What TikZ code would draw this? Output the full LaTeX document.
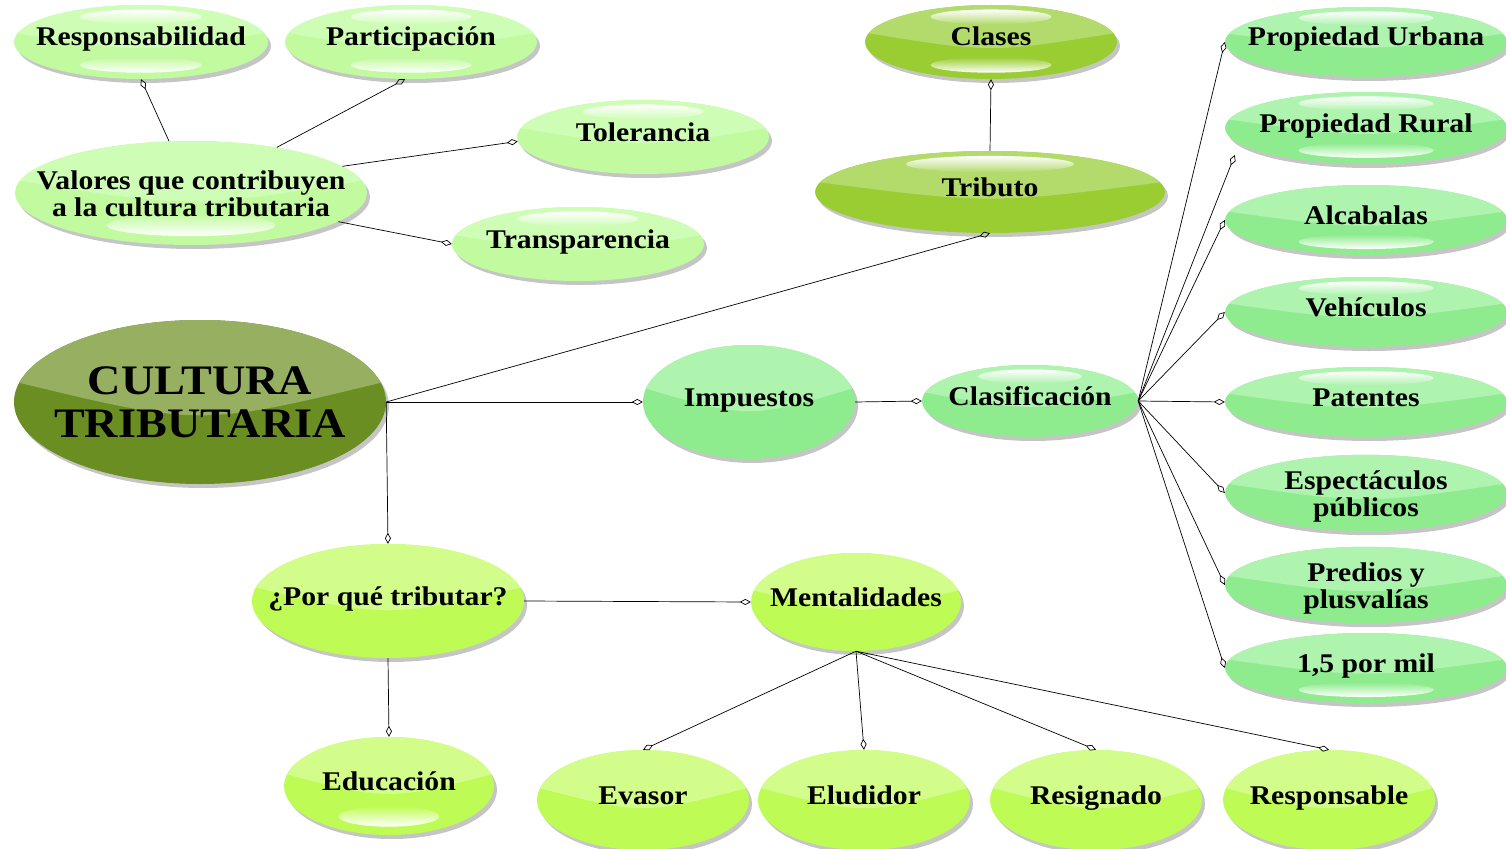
\documentclass[tikz,border=0pt]{standalone}
\usepackage{fontspec}
\setmainfont{Liberation Serif}[FakeStretch=1.1]
\usetikzlibrary{shapes.geometric,arrows.meta,calc,shadows}
\definecolor{vA}{HTML}{C2FAA0}\definecolor{vAt}{HTML}{CEFDB5}
\definecolor{yg}{HTML}{9ACD32}\definecolor{ygt}{HTML}{B3DB6C}
\definecolor{ol}{HTML}{6B8E23}\definecolor{olt}{HTML}{97AF60}
\definecolor{lg}{HTML}{8EEB8E}\definecolor{lgt}{HTML}{AEF3AE}
\definecolor{gy}{HTML}{BFFB55}\definecolor{gyt}{HTML}{D3FD8A}
\newcommand\zw[1]{\makebox[0pt]{\raisebox{-5pt}[\height][\depth]{\begin{tabular}{@{}c@{}}#1\end{tabular}}}}
\newcommand\zo[1]{\makebox[0pt]{#1}}
\tikzset{
  gt/.initial=0, gb/.initial=0,
  bub/.style 2 args={ellipse, draw=none, fill=#1, inner sep=0pt, align=center,
    font=\bfseries\fontsize{27}{27}\selectfont,
    drop shadow={shadow xshift=3pt, shadow yshift=-4pt, opacity=0.3, fill=black!75},
    path picture={
      \fill[#2] ($(path picture bounding box.west)!0.25!(path picture bounding box.north west)$)
        .. controls ($(path picture bounding box.center)!0.3!(path picture bounding box.south)$)
        .. ($(path picture bounding box.east)!0.25!(path picture bounding box.north east)$)
        -- (path picture bounding box.north east) -- (path picture bounding box.north west) -- cycle;
      \pgfpointdiff{\pgfpointanchor{path picture bounding box}{center}}{\pgfpointanchor{path picture bounding box}{north east}}
      \pgfgetlastxy{\ppRX}{\ppRY}
      \ifnum\pgfkeysvalueof{/tikz/gt}=1
        \shade[top color=white, bottom color=#2] ([yshift=0.68*\ppRY]path picture bounding box.center) ellipse [x radius=0.48*\ppRX, y radius=0.2*\ppRY];
      \fi
      \ifnum\pgfkeysvalueof{/tikz/gb}=1
        \shade[top color=#1, bottom color=white] ([yshift=-0.62*\ppRY]path picture bounding box.center) ellipse [x radius=0.48*\ppRX, y radius=0.21*\ppRY];
      \fi
    }},
  one/.style={text height=19pt, text depth=11pt},
  sz/.style 2 args={minimum width=#1, minimum height=#2},
  conn/.style={draw, line width=0.7pt, -{Diamond[open,length=11pt,width=6pt]}}
}
\begin{document}
\begin{tikzpicture}[x=1pt,y=1pt]
\useasboundingbox (0,0) rectangle (1506,-848);
% values cluster
\node[bub={vA}{vAt}, one, sz={254}{74}, gt=1, gb=1] (resp) at (141,-42) {\zo{Responsabilidad}};
\node[bub={vA}{vAt}, one, sz={252}{74}, gt=1, gb=1] (part) at (411,-42) {\zo{Participación}};
\node[bub={vA}{vAt}, sz={352}{104}, gb=1] (val) at (191,-193) {\zw{Valores que contribuyen\\a la cultura tributaria}};
\node[bub={vA}{vAt}, one, sz={252}{74}, gt=1] (tol) at (643,-137) {\zo{Tolerancia}};
\node[bub={vA}{vAt}, one, sz={252}{74}, gt=1] (trans) at (578,-244) {\zo{Transparencia}};
% tributo
\node[bub={yg}{ygt}, one, sz={252}{74}, gt=1, gb=1] (clases) at (991,-42) {\zo{Clases}};
\node[bub={yg}{ygt}, one, sz={350}{82}, gt=1] (trib) at (990,-192) {\zo{Tributo}};
% centre
\node[bub={ol}{olt}, sz={372}{164}, font=\bfseries\fontsize{42}{43}\selectfont] (cult) at (200,-402) {\zw{CULTURA\\TRIBUTARIA}};
\node[bub={lg}{lgt}, one, sz={212}{114}] (imp) at (749,-402) {\zo{Impuestos}};
\node[bub={lg}{lgt}, one, sz={216}{72}, gt=1] (clas) at (1030,-401) {\zo{Clasificación}};
% right column
\node[bub={lg}{lgt}, one, sz={282}{70}, gt=1] (pu) at (1366,-42) {\zo{Propiedad Urbana}};
\node[bub={lg}{lgt}, one, sz={282}{72}, gt=1, gb=1] (pr) at (1366,-128) {\zo{Propiedad Rural}};
\node[bub={lg}{lgt}, one, sz={282}{70}, gb=1] (alc) at (1366,-220) {\zo{Alcabalas}};
\node[bub={lg}{lgt}, one, sz={282}{70}, gt=1] (veh) at (1366,-312) {\zo{Vehículos}};
\node[bub={lg}{lgt}, one, sz={282}{70}, gt=1] (pat) at (1366,-402) {\zo{Patentes}};
\node[bub={lg}{lgt}, sz={282}{70}] (esp) at (1366,-493) {\zw{Espectáculos\\públicos}};
\node[bub={lg}{lgt}, sz={282}{70}] (pred) at (1366,-585) {\zw{Predios y\\plusvalías}};
\node[bub={lg}{lgt}, one, sz={282}{70}, gb=1] (mil) at (1366,-668) {\zo{1,5 por mil}};
% bottom
\node[bub={gy}{gyt}, one, sz={272}{114}] (por) at (388,-601) {\zo{¿Por qué tributar?}};
\node[bub={gy}{gyt}, one, sz={210}{98}] (ment) at (856,-602) {\zo{Mentalidades}};
\node[bub={gy}{gyt}, one, sz={210}{98}, gb=1] (edu) at (389,-786) {\zo{Educación}};
\node[bub={gy}{gyt}, one, sz={212}{100}] (eva) at (643,-800) {\zo{Evasor}};
\node[bub={gy}{gyt}, one, sz={212}{100}] (elu) at (864,-800) {\zo{Eludidor}};
\node[bub={gy}{gyt}, one, sz={212}{100}] (resg) at (1096,-800) {\zo{Resignado}};
\node[bub={gy}{gyt}, one, sz={212}{100}] (respo) at (1329,-800) {\zo{Responsable}};
% connectors
\draw[conn] (val.113) -- (resp.south);
\draw[conn] (val.28) -- (part.261);
\draw[conn] (val.10) -- (tol.182);
\draw[conn] (val.349) -- (trans.west);
\draw[conn] (trib.north) -- (clases.south);
\draw[conn] (cult.east) -- (trib.south);
\draw[conn] (cult.east) -- (imp.west);
\draw[conn] (cult.east) -- (por.north);
\draw[conn] (imp.east) -- (clas.west);
\foreach \t in {pu,alc,veh,pat,esp,pred,mil} \draw[conn] (clas.east) -- (\t.west);
\draw[conn] (clas.east) -- ([shift={(10,-27)}]pr.west);
\draw[conn] (por.east) -- (ment.west);
\draw[conn] (por.south) -- (edu.north);
\foreach \t in {eva,elu,resg,respo} \draw[conn] (ment.south) -- (\t.north);
\end{tikzpicture}
\end{document}
